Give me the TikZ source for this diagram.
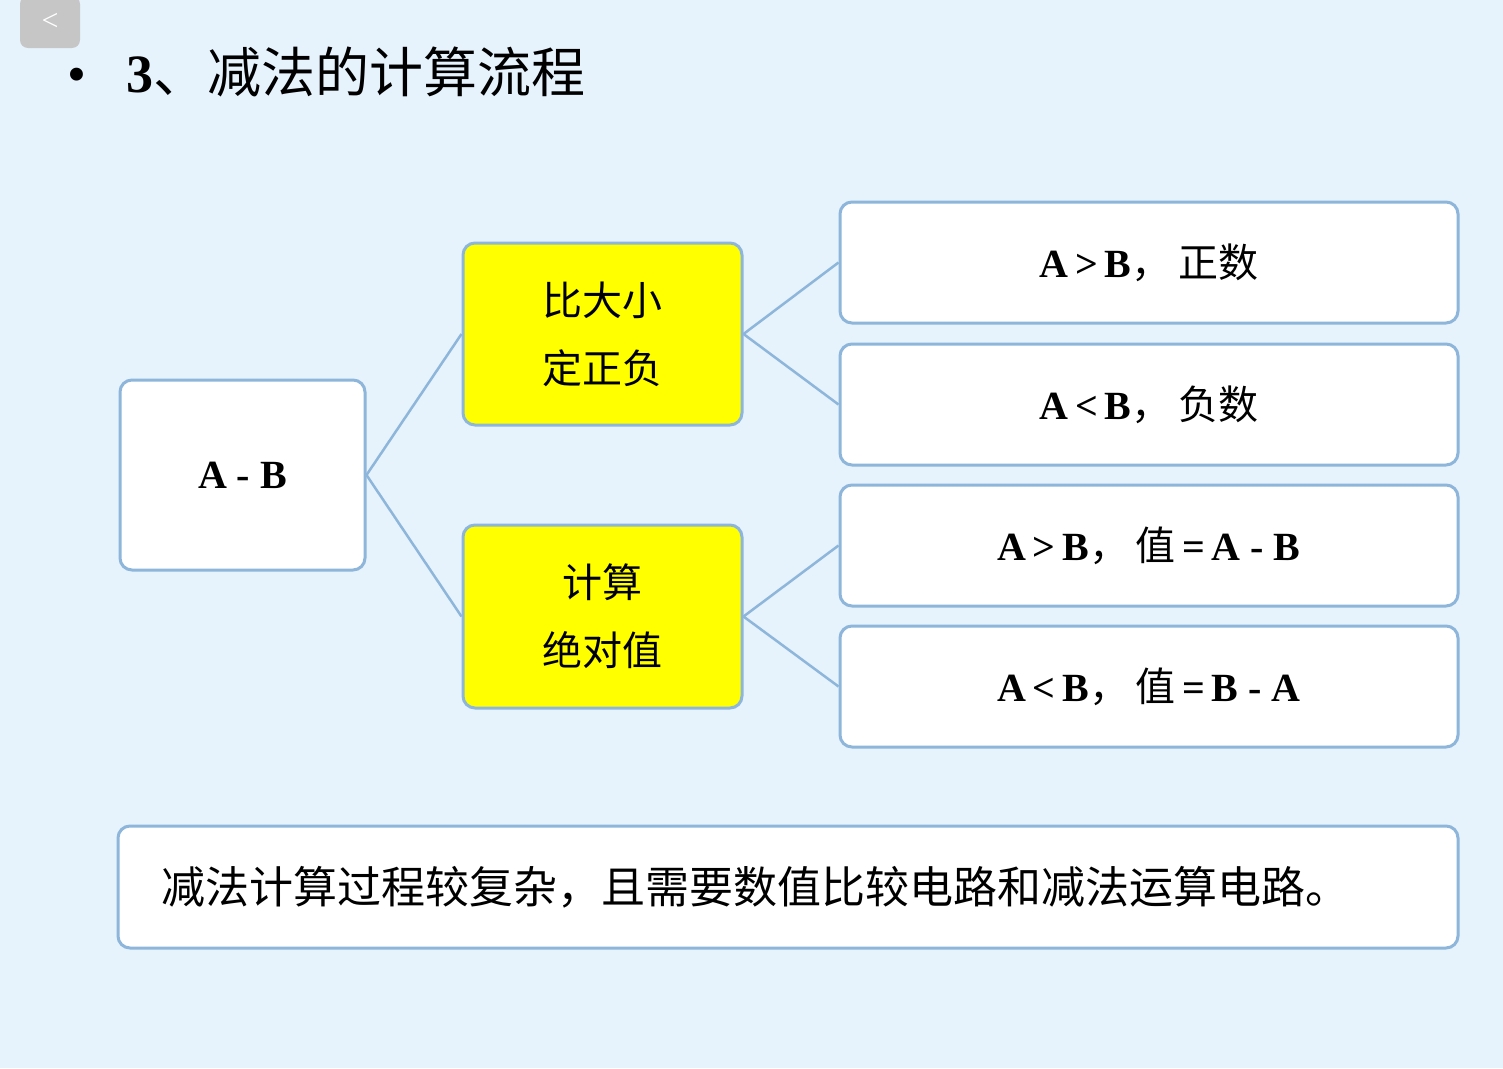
\documentclass[tikz,border=0pt]{standalone}
\usepackage{fontspec}
\setmainfont{Liberation Serif}
\newfontfamily\cjk{Noto Sans CJK SC}
\definecolor{bg}{HTML}{E6F2FC}
\definecolor{edge}{HTML}{8DB6DA}
\definecolor{yel}{HTML}{FFFF00}
\begin{document}
\begin{tikzpicture}[x=1pt,y=-1pt,
  box/.style={draw=edge,line width=3pt,rounded corners=12pt,fill=white,inner sep=0pt},
  ybox/.style={box,fill=yel},
  lab/.style={font=\fontsize{40}{52}\selectfont\bfseries},
  conn/.style={edge,line width=2.5pt}]
\fill[bg] (0,0) rectangle (1503,1068);
\useasboundingbox (0,0) rectangle (1503,1068);
\node[fill=gray!45,rounded corners=8pt,minimum width=60pt,minimum height=52pt,text=white,font=\fontsize{30}{30}\selectfont] (back) at (50,22) {<};
\node[anchor=west,font=\fontsize{54}{54}\selectfont] (title) at (64,72) {\textbullet\hspace{40pt}\textbf{3}{\cjk 、减法的计算流程}};
\node[box,minimum width=245pt,minimum height=190pt,lab] (ab) at (242.5,475) {A - B};
\node[ybox,minimum width=279pt,minimum height=182pt,align=center,font=\fontsize{40}{68}\selectfont\cjk] (y1) at (602.5,334) {比大小\\定正负};
\node[ybox,minimum width=279pt,minimum height=183pt,align=center,font=\fontsize{40}{68}\selectfont\cjk] (y2) at (602.5,616.5) {计算\\绝对值};
\node[box,minimum width=618pt,minimum height=121pt,lab] (r1) at (1149,262.5) {A\,>\,B{\cjk\mdseries ，}\,{\cjk\mdseries 正数}};
\node[box,minimum width=618pt,minimum height=121pt,lab] (r2) at (1149,404.5) {A\,<\,B{\cjk\mdseries ，}\,{\cjk\mdseries 负数}};
\node[box,minimum width=618pt,minimum height=121pt,lab] (r3) at (1149,545.5) {A\,>\,B{\cjk\mdseries ，}\,{\cjk\mdseries 值}\,=\,A - B};
\node[box,minimum width=618pt,minimum height=121pt,lab] (r4) at (1149,686.5) {A\,<\,B{\cjk\mdseries ，}\,{\cjk\mdseries 值}\,=\,B - A};
\node[box,minimum width=1340pt,minimum height=122pt] (bt) at (788,887) {};
\node[anchor=west,font=\fontsize{44}{44}\selectfont\cjk,inner sep=0pt] (btt) at ([xshift=45pt]bt.west) {减法计算过程较复杂，且需要数值比较电路和减法运算电路。};
\draw[conn] (ab.east) -- (y1.west);
\draw[conn] (ab.east) -- (y2.west);
\draw[conn] (y1.east) -- (r1.west);
\draw[conn] (y1.east) -- (r2.west);
\draw[conn] (y2.east) -- (r3.west);
\draw[conn] (y2.east) -- (r4.west);
\end{tikzpicture}
\end{document}
